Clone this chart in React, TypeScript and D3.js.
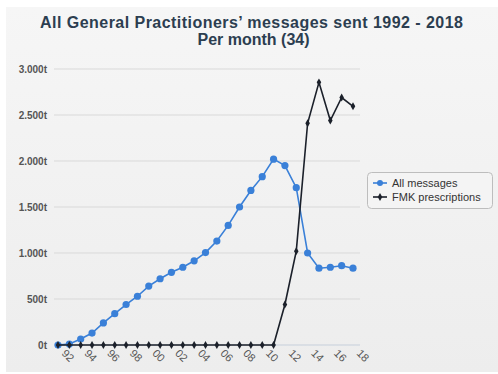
import React from "react";
import * as d3 from "d3";

const years: number[] = d3.range(1992, 2019);
const allMessages: number[] = [
  0, 10, 65, 130, 240, 340, 440, 530, 640, 720, 790, 845, 915, 1005, 1130,
  1300, 1500, 1680, 1830, 2020, 1950, 1710, 1000, 835, 845, 862, 835,
];
const fmkPrescriptions: number[] = [
  0, 0, 0, 0, 0, 0, 0, 0, 0, 0, 0, 0, 0, 0, 0, 0, 0, 0, 0, 0, 440, 1020, 2410,
  2855, 2440, 2690, 2595,
];
const yTicks: number[] = [0, 500, 1000, 1500, 2000, 2500, 3000];
const yTickLabels: string[] = ["0t", "500t", "1.000t", "1.500t", "2.000t", "2.500t", "3.000t"];
const seriesNames: string[] = ["All messages", "FMK prescriptions"];
const titleLines: string[] = ["All General Practitioners’ messages sent 1992 - 2018", "Per month (34)"];

const W = 498;
const H = 374;
const BLUE = "#3a80d8";
const DARK = "#1b202a";

export default function App() {
  const x = d3.scaleLinear().domain([1992, 2018]).range([58, 353]);
  const y = d3.scaleLinear().domain([0, 3000]).range([345, 69]);
  const line = d3
    .line<number>()
    .x((_, i) => x(years[i]))
    .y((v) => y(v));
  const diamond = d3.symbol().type(d3.symbolDiamond).size(18)();
  const font = "'Liberation Sans', Arial, Helvetica, sans-serif";

  return (
    <svg
      width={W}
      height={H}
      style={{ position: "absolute", left: 0, top: 0 }}
      fontFamily={font}
    >
      <defs>
        <linearGradient id="bg" x1="0" y1="0" x2="0" y2="1">
          <stop offset="0" stopColor="#f6f6f6" />
          <stop offset="1" stopColor="#ededed" />
        </linearGradient>
      </defs>
      <rect x={0} y={0} width={W} height={H} fill="#ffffff" />
      <rect x={6} y={7} width={W - 6} height={365} fill="url(#bg)" />

      <text
        x={251.5}
        y={28}
        textAnchor="middle"
        fontSize={16}
        fontWeight="bold"
        fill="#2c3e50"
        textLength={423}
        lengthAdjust="spacing"
      >
        {titleLines[0]}
      </text>
      <text
        x={253.5}
        y={45}
        textAnchor="middle"
        fontSize={16}
        fontWeight="bold"
        fill="#2c3e50"
      >
        {titleLines[1]}
      </text>

      {yTicks.map((v, i) => (
        <g key={v}>
          <line
            x1={54}
            x2={360}
            y1={y(v)}
            y2={y(v)}
            stroke={v === 0 ? "#c6cfdb" : "#d9d9d9"}
            strokeWidth={1}
          />
          <text
            x={47}
            y={y(v) + 3.5}
            textAnchor="end"
            fontSize={10}
            fontWeight="bold"
            fill="#555"
          >
            {yTickLabels[i]}
          </text>
        </g>
      ))}

      {years
        .filter((yr) => yr % 2 === 0)
        .map((yr) => (
          <text
            key={yr}
            transform={`translate(${x(yr) + 3},${y(0) + 9}) rotate(45)`}
            fontSize={11}
            fill="#555"
          >
            {String(yr).slice(2)}
          </text>
        ))}

      <path d={line(allMessages) || ""} fill="none" stroke={BLUE} strokeWidth={1.6} />
      {allMessages.map((v, i) => (
        <circle key={i} cx={x(years[i])} cy={y(v)} r={3.6} fill={BLUE} />
      ))}

      <path d={line(fmkPrescriptions) || ""} fill="none" stroke={DARK} strokeWidth={1.6} />
      {fmkPrescriptions.map((v, i) => (
        <path
          key={i}
          d={diamond || ""}
          transform={`translate(${x(years[i])},${y(v)})`}
          fill={DARK}
        />
      ))}

      <g>
        <rect
          x={367.5}
          y={172.5}
          width={125}
          height={36}
          rx={4}
          fill="#f4f4f4"
          stroke="#bdbdbd"
        />
        {seriesNames.map((name, i) => {
          const cy = 183 + i * 14;
          return (
            <g key={name}>
              <line
                x1={373}
                x2={387}
                y1={cy}
                y2={cy}
                stroke={i === 0 ? BLUE : DARK}
                strokeWidth={1.6}
              />
              {i === 0 ? (
                <circle cx={380} cy={cy} r={3} fill={BLUE} />
              ) : (
                <path d={diamond || ""} transform={`translate(380,${cy})`} fill={DARK} />
              )}
              <text x={392} y={cy + 4} fontSize={11} fill="#333">
                {name}
              </text>
            </g>
          );
        })}
      </g>
    </svg>
  );
}
